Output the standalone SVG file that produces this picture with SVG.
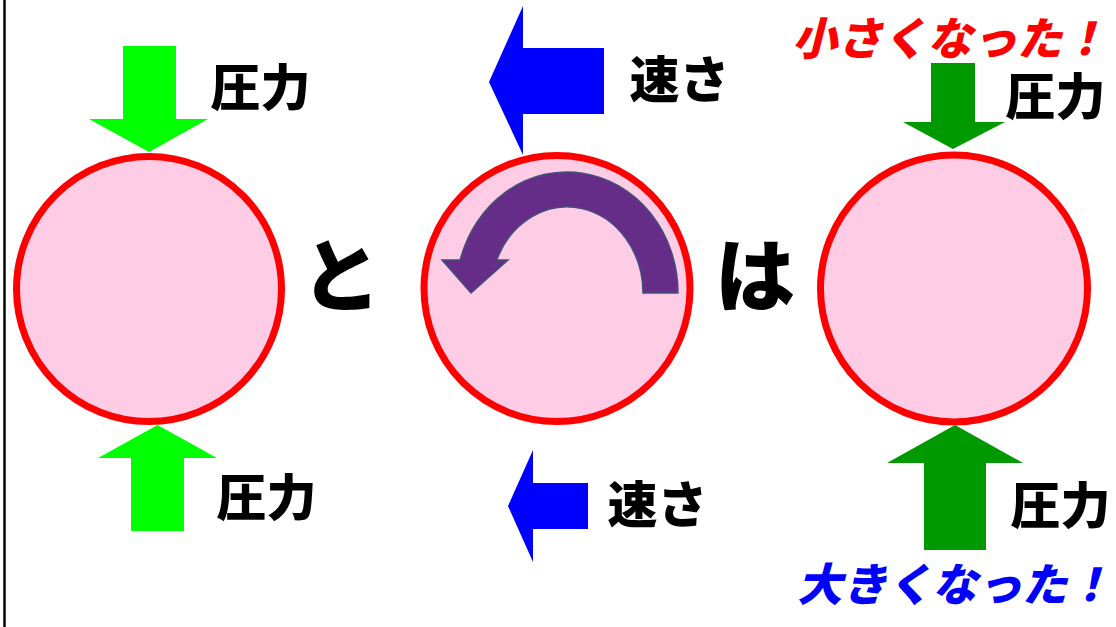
<svg xmlns="http://www.w3.org/2000/svg" width="1116" height="627" viewBox="0 0 1116 627">
<style>
.ball{fill:#FFCCE5;stroke:#FF0000;stroke-width:7}
.lbl{font-family:"Noto Sans CJK JP","Noto Sans CJK SC",sans-serif;font-weight:900;fill:#000;text-anchor:middle}
.big{font-size:80px}
.mid{font-size:50px}
.note{font-size:45px;font-style:italic;text-anchor:start}
.lg{fill:#00FF00}
.dg{fill:#009900}
.bl{fill:#0000FF}
</style>
<rect x="0" y="0" width="1116" height="627" fill="#FFFFFF"/>
<line x1="4.5" y1="0" x2="4.5" y2="627" stroke="#000" stroke-width="2.5"/>

<g id="ball-left">
<circle class="ball" cx="149" cy="289" r="132.5"/>
</g>
<g id="ball-center">
<circle class="ball" cx="557" cy="288.5" r="133"/>
<path d="M678 293 A111 121 0 0 0 460.2 260 L442 260 L471 293 L508 260 L496.8 260 A76 86 0 0 1 643 293 Z" fill="#652D88" stroke="#43507A" stroke-width="1.5"/>
</g>
<g id="ball-right">
<circle class="ball" cx="954" cy="288.5" r="133.5"/>
</g>

<g id="arrows">
<polygon class="lg" points="123,46 176,46 176,119 208,119 149,152 89,119 123,119"/>
<polygon class="lg" points="157.5,425 217,458 184,458 184,531 131,531 131,458 98,458"/>
<polygon class="bl" points="489,82 523,6 523,48 604,48 604,114 523,114 523,155"/>
<polygon class="bl" points="508,506 533,450 533,483 588,483 588,529 533,529 533,562"/>
<polygon class="dg" points="931,63 975,63 975,122 1005,122 953,149 903,122 931,122"/>
<polygon class="dg" points="955,425 1023,463 986,463 986,550 924,550 924,463 887,463"/>
</g>

<g id="labels">
<text class="lbl mid" x="260.5" y="106">圧力</text>
<text class="lbl mid" x="266.5" y="516">圧力</text>
<text class="lbl mid" x="679.5" y="98">速さ</text>
<text class="lbl mid" x="657.5" y="523">速さ</text>
<text class="lbl mid" x="1055.5" y="115">圧力</text>
<text class="lbl mid" x="1060.5" y="524">圧力</text>
<text class="lbl big" x="341" y="305">と</text>
<text class="lbl big" x="755" y="305">は</text>
<text class="lbl note" x="792" y="55" style="fill:#FF0000">小さくなった！</text>
<text class="lbl note" x="797" y="601" style="fill:#0000FF">大きくなった！</text>
</g>
</svg>
